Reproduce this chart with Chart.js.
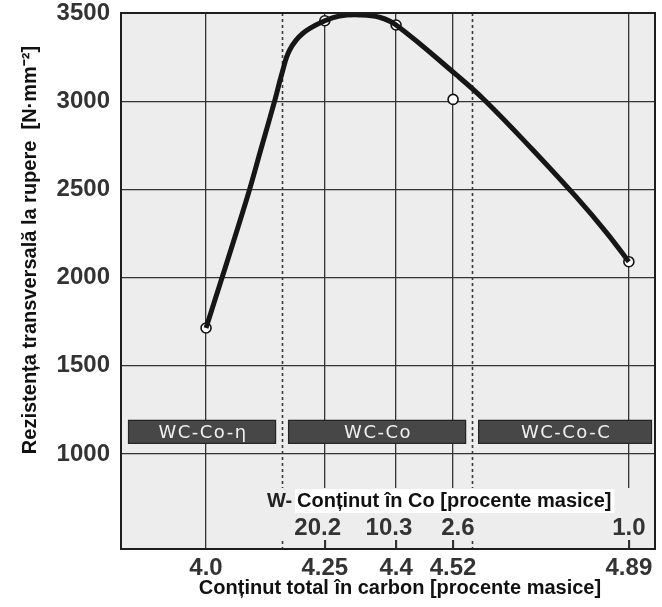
<!DOCTYPE html>
<html>
<head>
<meta charset="utf-8">
<script src="https://cdn.jsdelivr.net/npm/chart.js@4/dist/chart.umd.min.js"></script>
<style>
  html, body { margin: 0; padding: 0; background: #fff; }
  #chart { display: block; }
</style>
</head>
<body>
<canvas id="chart" width="662" height="607"></canvas>
<script>
// carbon content axis (bottom)
const xTickValues = [4.0, 4.25, 4.4, 4.52, 4.89];
const xTickLabels = ["4.0", "4.25", "4.4", "4.52", "4.89"];
const yTickValues = [1000, 1500, 2000, 2500, 3000, 3500];

// W content in Co (inner scale)
const coLabels = ["20.2", "10.3", "2.6", "1.0"];
const coLabelCarbon = [4.235, 4.385, 4.53, 4.89];
const coTickCarbon = [4.25, 4.4, 4.52, 4.89];

// phase fields
const phaseNames = ["WC-Co-η", "WC-Co", "WC-Co-C"];
const phaseBounds = [4.16, 4.56];

// measured points
const pointCarbon = [4.0, 4.25, 4.4, 4.52, 4.89];
const pointStrength = [1714, 3456, 3432, 3010, 2090];

// fitted curve
const curveCarbon = [4.0, 4.085, 4.117, 4.145, 4.16, 4.176, 4.204, 4.25, 4.281, 4.323, 4.365, 4.4, 4.527, 4.586, 4.686, 4.779, 4.842, 4.89];
const curveStrength = [1714, 2440, 2742, 3007, 3160, 3290, 3385, 3456, 3483, 3489, 3476, 3432, 3149, 3007, 2729, 2457, 2258, 2090];

const FONT = '"Liberation Sans", Arial, sans-serif';
const PLOT_BG = "#ededed";

const paperPlugin = {
  id: "paper",
  beforeDraw(chart) {
    const { ctx, chartArea: a } = chart;
    ctx.save();
    ctx.fillStyle = PLOT_BG;
    ctx.fillRect(a.left, a.top, a.right - a.left, a.bottom - a.top);
    ctx.restore();
  },
  beforeDatasetsDraw(chart) {
    const { ctx, chartArea: a, scales: { x, y } } = chart;
    ctx.save();

    // phase boundaries
    ctx.strokeStyle = "#3a3a3a";
    ctx.lineWidth = 1.6;
    ctx.setLineDash([3, 3]);
    phaseBounds.forEach((b) => {
      const px = Math.round(x.getPixelForValue(b)) + 0.5;
      ctx.beginPath();
      ctx.moveTo(px, a.top);
      ctx.lineTo(px, a.bottom);
      ctx.stroke();
    });
    ctx.setLineDash([]);

    // strip for the Co scale hides the grid
    const x0 = x.getPixelForValue(xTickValues[0]) + 2;
    ctx.fillStyle = PLOT_BG;
    ctx.fillRect(x0, a.bottom - 61, a.right - 2 - x0, 52);

    ctx.strokeStyle = "#333";
    ctx.lineWidth = 1.3;
    coTickCarbon.forEach((c) => {
      const px = Math.round(x.getPixelForValue(c)) + 0.5;
      ctx.beginPath();
      ctx.moveTo(px, a.bottom - 9);
      ctx.lineTo(px, a.bottom);
      ctx.stroke();
    });

    // inner title
    ctx.font = `bold 20px ${FONT}`;
    ctx.textBaseline = "middle";
    ctx.textAlign = "left";
    const ty = a.bottom - 48;
    const tx = a.left + 146;
    ctx.fillStyle = "#222";
    ctx.fillText("W-", tx, ty);
    const rest = "Conținut în Co [procente masice]";
    const rx = tx + 30;
    const rw = ctx.measureText(rest).width;
    ctx.fillStyle = "#fff";
    ctx.fillRect(rx - 2, ty - 12, rw + 5, 24);
    ctx.fillStyle = "#111";
    ctx.fillText(rest, rx, ty);

    ctx.font = `bold 24px ${FONT}`;
    ctx.textAlign = "center";
    ctx.fillStyle = "#333";
    coLabels.forEach((lab, i) => {
      ctx.fillText(lab, x.getPixelForValue(coLabelCarbon[i]), a.bottom - 21);
    });

    // phase bands
    const edges = [a.left, x.getPixelForValue(phaseBounds[0]), x.getPixelForValue(phaseBounds[1]), a.right];
    const insetL = [7, 6, 6];
    const insetR = [6, 6, 3];
    const top = y.getPixelForValue(1193);
    const bot = y.getPixelForValue(1057);
    phaseNames.forEach((name, i) => {
      const l = edges[i] + insetL[i];
      const r = edges[i + 1] - insetR[i];
      ctx.fillStyle = "#474747";
      ctx.fillRect(l, top, r - l, bot - top);
      ctx.strokeStyle = "#262626";
      ctx.lineWidth = 1.2;
      ctx.strokeRect(l + 0.5, top + 0.5, r - l - 1, bot - top - 1);
      ctx.font = '18px "DejaVu Sans", sans-serif';
      ctx.letterSpacing = "1.5px";
      ctx.fillStyle = "#f0f0f0";
      ctx.textAlign = "center";
      ctx.textBaseline = "middle";
      ctx.fillText(name, (l + r) / 2 + 1, (top + bot) / 2 + 1);
      ctx.letterSpacing = "0px";
    });
    ctx.restore();
  },
  afterDatasetsDraw(chart) {
    const { ctx, chartArea: a } = chart;
    ctx.save();
    ctx.strokeStyle = "#1e1e1e";
    ctx.lineWidth = 2;
    ctx.strokeRect(a.left, a.top, a.right - a.left, a.bottom - a.top);
    ctx.restore();
  },
  afterDraw(chart) {
    const { ctx } = chart;
    ctx.save();
    ctx.fillStyle = "#111";
    ctx.font = `bold 20px ${FONT}`;
    ctx.textAlign = "center";
    ctx.textBaseline = "alphabetic";
    ctx.fillText("Conținut total în carbon [procente masice]", 400, 594);

    ctx.translate(36, 250);
    ctx.rotate(-Math.PI / 2);
    ctx.font = `bold 20px ${FONT}`;
    ctx.fillText("Rezistența transversală la rupere  [N·mm⁻²]", 0, 0);
    ctx.restore();
  },
};

new Chart(document.getElementById("chart"), {
  type: "line",
  data: {
    datasets: [
      {
        label: "curve",
        data: curveCarbon.map((c, i) => ({ x: c, y: curveStrength[i] })),
        borderColor: "#161616",
        borderWidth: 5,
        pointRadius: 0,
        tension: 0.4,
        fill: false,
      },
      {
        label: "points",
        data: pointCarbon.map((c, i) => ({ x: c, y: pointStrength[i] })),
        showLine: false,
        pointRadius: 5,
        pointBackgroundColor: "#fff",
        pointBorderColor: "#111",
        pointBorderWidth: 1.6,
      },
    ],
  },
  options: {
    responsive: false,
    animation: false,
    devicePixelRatio: 1,
    layout: { padding: { left: 0, top: 13, right: 7, bottom: 0 } },
    plugins: { legend: { display: false }, tooltip: { enabled: false } },
    scales: {
      x: {
        type: "linear",
        min: 3.821,
        max: 4.945,
        afterBuildTicks: (s) => {
          s.ticks = xTickValues.map((v) => ({ value: v }));
        },
        afterFit: (s) => {
          s.height = 58;
          s.paddingLeft = 0;
          s.paddingRight = 0;
        },
        ticks: {
          callback: (v, i) => xTickLabels[i],
          autoSkip: false,
          maxRotation: 0,
          padding: 5,
          color: "#333",
          font: { family: FONT, size: 24, weight: "bold" },
        },
        grid: { color: "#333", lineWidth: 1.3, drawTicks: false },
        border: { display: false },
      },
      y: {
        min: 461,
        max: 3500,
        afterBuildTicks: (s) => {
          s.ticks = yTickValues.map((v) => ({ value: v }));
        },
        afterFit: (s) => {
          s.width = 121;
          s.paddingTop = 0;
          s.paddingBottom = 0;
        },
        ticks: {
          callback: (v) => String(v),
          padding: 11,
          color: "#333",
          font: { family: FONT, size: 24, weight: "bold" },
        },
        grid: { color: "#333", lineWidth: 1.3, drawTicks: false },
        border: { display: false },
      },
    },
  },
  plugins: [paperPlugin],
});
</script>
</body>
</html>
